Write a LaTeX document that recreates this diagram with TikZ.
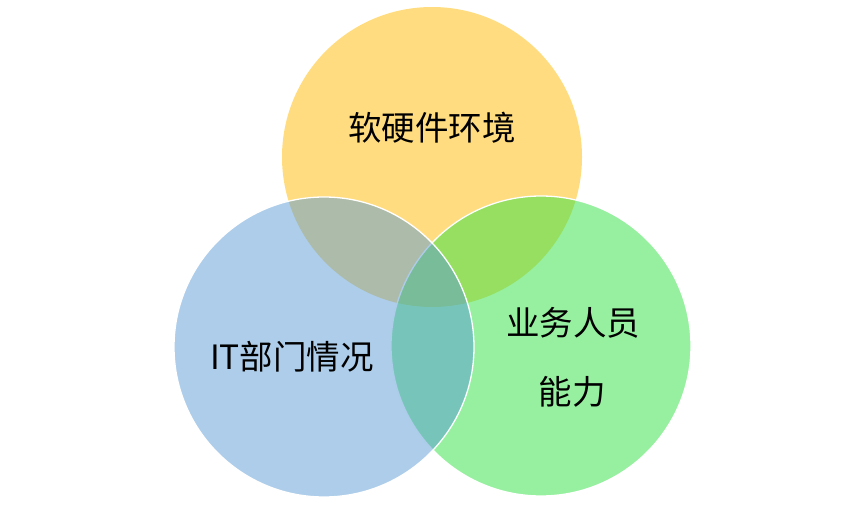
\documentclass[tikz,border=0pt]{standalone}
\usepackage{fontspec}
\setmainfont{Noto Sans CJK SC}
\definecolor{cyellow}{RGB}{255,186,2}
\definecolor{cblue}{RGB}{91,155,213}
\definecolor{cgreen}{RGB}{45,225,65}
\begin{document}
\begin{tikzpicture}[x=1pt,y=-1pt,
  venn/.style={circle, minimum size=300pt, inner sep=0pt, fill opacity=0.5},
  rim/.style={draw=white, line width=1.3pt},
  lbl/.style={font=\fontsize{33.5}{36}\selectfont, text=black, inner sep=0pt}]
\useasboundingbox (0,0) rectangle (865,505);
\node[venn, fill=cyellow] (yellow) at (432,157) {};
\node[venn, fill=cgreen, rim] (green) at (541,346) {};
\node[venn, fill=cblue, rim] (blue) at (324,347) {};
\node[lbl] (t1) at (432,128) {软硬件环境};
\node[lbl] (t2) at (292,357) {IT部门情况};
\node[lbl] (t3) at (573,323) {业务人员};
\node[lbl] (t4) at (572,392) {能力};
\end{tikzpicture}
\end{document}
